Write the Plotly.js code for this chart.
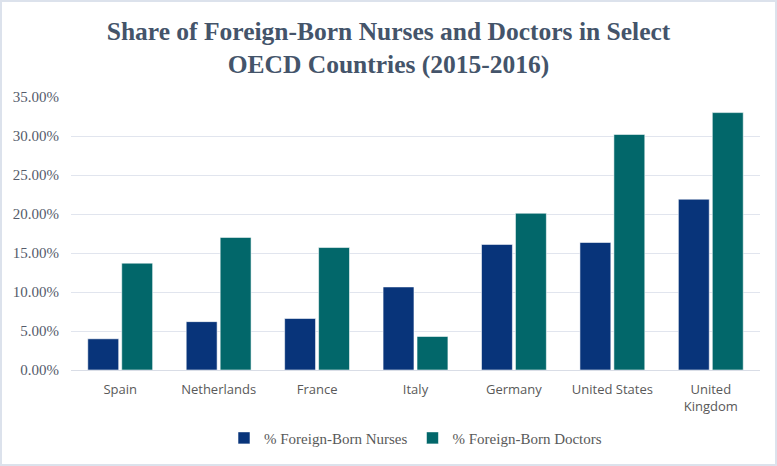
<!DOCTYPE html>
<html>
<head>
<meta charset="utf-8">
<script src="https://cdn.plot.ly/plotly-3.0.1.min.js"></script>
<style>
html,body{margin:0;padding:0;background:#fff;}
#wrap{width:777px;height:466px;box-sizing:border-box;border:2px solid #DCE2EC;background:#fff;}
#chart{width:773px;height:462px;}
</style>
</head>
<body>
<div id="wrap"><div id="chart"></div></div>
<script>
const countries = ["Spain", "Netherlands", "France", "Italy", "Germany", "United States", "United<br>Kingdom"];
const nurses = [0.040, 0.062, 0.066, 0.1065, 0.161, 0.1635, 0.219];
const doctors = [0.137, 0.170, 0.157, 0.043, 0.201, 0.302, 0.330];
const seriesNames = ["% Foreign-Born Nurses", "% Foreign-Born Doctors"];
const yTicks = [0, 0.05, 0.10, 0.15, 0.20, 0.25, 0.30, 0.35];

const data = [
  {type: "bar", name: seriesNames[0], x: countries, y: nurses,
   marker: {color: "#08347A", line: {color: "rgba(255,255,255,0.7)", width: 0.8}}, hoverinfo: "none"},
  {type: "bar", name: seriesNames[1], x: countries, y: doctors,
   marker: {color: "#02676A", line: {color: "rgba(255,255,255,0.7)", width: 0.8}}, hoverinfo: "none"}
];

const layout = {
  width: 773, height: 462,
  margin: {l: 69, r: 15, t: 95, b: 94},
  paper_bgcolor: "#ffffff", plot_bgcolor: "#ffffff",
  title: {
    text: "<b>Share of Foreign-Born Nurses and Doctors in Select<br>OECD Countries (2015-2016)</b>",
    font: {family: "Liberation Serif, serif", size: 25.5, color: "#44546A"},
    x: 0.5, xanchor: "center", y: 0.918, yanchor: "top", yref: "container"
  },
  bargap: 0.31, bargroupgap: 0.09,
  xaxis: {
    showgrid: false, showline: true, linecolor: "#D9DDE6", linewidth: 1,
    ticks: "", ticklabelstandoff: 7, automargin: false,
    tickfont: {family: "Open Sans, sans-serif", size: 13, color: "#595959"},
    fixedrange: true
  },
  yaxis: {
    range: [0, 0.35], tickvals: yTicks, tickformat: ".2%",
    showgrid: true, gridcolor: "#E1E5EE", gridwidth: 1, zeroline: false, showline: false,
    ticks: "", ticklabelstandoff: 11, automargin: false,
    tickfont: {family: "Liberation Serif, serif", size: 15, color: "#555B6B"},
    fixedrange: true
  },
  showlegend: true,
  legend: {
    orientation: "h", x: 0.5, xanchor: "center", y: 0.056, yref: "container", yanchor: "middle",
    font: {family: "Liberation Serif, serif", size: 15, color: "#595959"},
    itemwidth: 30, traceorder: "normal"
  }
};

Plotly.newPlot("chart", data, layout, {displayModeBar: false, staticPlot: true});
</script>
</body>
</html>
